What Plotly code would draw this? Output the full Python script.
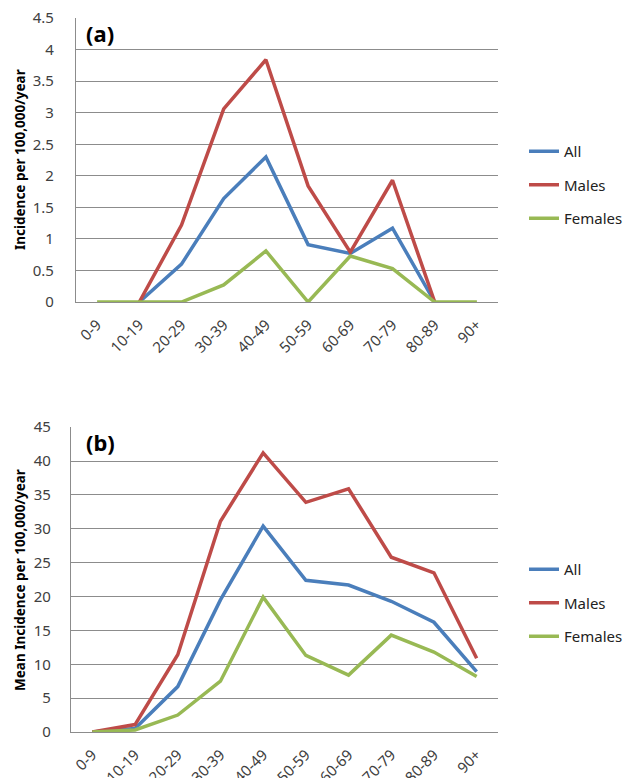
import plotly.graph_objects as go

age_groups = ["0-9", "10-19", "20-29", "30-39", "40-49", "50-59", "60-69", "70-79", "80-89", "90+"]

# Panel (a): Incidence per 100,000/year
a_all = [None, 0, 0.60, 1.64, 2.30, 0.91, 0.77, 1.17, 0, None]
a_males = [None, 0, 1.22, 3.06, 3.84, 1.84, 0.79, 1.93, 0, None]
a_females = [0, 0, 0, 0.27, 0.81, 0, 0.73, 0.53, 0, 0]

# Panel (b): Mean incidence per 100,000/year
b_all = [0, 0.5, 6.7, 19.5, 30.4, 22.4, 21.7, 19.3, 16.2, 8.9]
b_males = [0, 1.1, 11.4, 31.1, 41.2, 33.9, 35.9, 25.8, 23.5, 10.9]
b_females = [0, 0.3, 2.5, 7.5, 19.9, 11.3, 8.4, 14.3, 11.8, 8.2]

series_names = ["All", "Males", "Females"]
colors = ["#4A7EBB", "#BE4B48", "#98B954"]

# page body has an 8px default margin; the figure is sized to the visible area
OFF = 8
W, H = 639 - OFF, 778 - OFF
FONT = "Noto Sans"
TXT = "#404040"
GRID = "#8C8C8C"

fig = go.Figure()

for i, (name, vals) in enumerate(zip(series_names, [a_all, a_males, a_females])):
    fig.add_trace(go.Scatter(x=age_groups, y=vals, name=name, mode="lines",
                             line=dict(color=colors[i], width=3.5),
                             xaxis="x", yaxis="y", legend="legend",
                             legendgroup="a" + name, connectgaps=False))
for i, (name, vals) in enumerate(zip(series_names, [b_all, b_males, b_females])):
    fig.add_trace(go.Scatter(x=age_groups, y=vals, name=name, mode="lines",
                             line=dict(color=colors[i], width=3.5),
                             xaxis="x2", yaxis="y2", legend="legend2",
                             legendgroup="b" + name))

def py(p):
    return 1 - (p - OFF) / H

def pxx(p):
    return (p - OFF) / W

xcommon = dict(type="category", categoryorder="array", categoryarray=age_groups,
               range=[-0.5, 9.5], tickangle=-45, showgrid=False, showline=True,
               linecolor=GRID, linewidth=1.3, ticks="outside", ticklen=7,
               tickcolor="rgba(0,0,0,0)", tickfont=dict(family=FONT, size=15, color=TXT),
               automargin=False, fixedrange=True, ticklabeloverflow="allow")
ycommon = dict(showgrid=True, gridcolor=GRID, gridwidth=1.3, showline=True,
               linecolor=GRID, linewidth=1.3, zeroline=False, ticks="",
               tickfont=dict(family=FONT, size=15, color=TXT), automargin=False,
               fixedrange=True, ticklabeloverflow="allow")

legcommon = dict(font=dict(family=FONT, size=15, color="#222"), bgcolor="rgba(0,0,0,0)",
                 xanchor="left", yanchor="middle", traceorder="grouped",
                 tracegroupgap=11, itemwidth=30)

fig.update_layout(
    width=W, height=H, template="none",
    paper_bgcolor="white", plot_bgcolor="white",
    margin=dict(l=0, r=0, t=0, b=0),
    xaxis=dict(domain=[pxx(76), pxx(498)], anchor="y", **xcommon),
    yaxis=dict(domain=[py(302), py(18)], anchor="x", range=[0, 4.502], tick0=0,
               dtick=0.5, ticklabelstandoff=18, **ycommon),
    xaxis2=dict(domain=[pxx(71), pxx(498)], anchor="y2", **xcommon),
    yaxis2=dict(domain=[py(732), py(427)], anchor="x2", range=[0, 45.02], tick0=0,
                dtick=5, ticklabelstandoff=16, **ycommon),
    legend=dict(x=pxx(524), y=py(185), **legcommon),
    legend2=dict(x=pxx(524), y=py(603), **legcommon),
    showlegend=True,
    annotations=[
        dict(text="<b>(a)</b>", x=pxx(84), y=py(33), xref="paper", yref="paper",
             xanchor="left", yanchor="middle", showarrow=False,
             font=dict(family=FONT, size=22, color="black")),
        dict(text="<b>(b)</b>", x=pxx(84), y=py(442), xref="paper", yref="paper",
             xanchor="left", yanchor="middle", showarrow=False,
             font=dict(family=FONT, size=22, color="black")),
        dict(text="<b>Incidence per 100,000/year</b>", x=pxx(20), y=py(160),
             xref="paper", yref="paper", xanchor="center", yanchor="middle",
             textangle=-90, showarrow=False,
             font=dict(family=FONT, size=13.5, color="black")),
        dict(text="<b>Mean Incidence per 100,000/year</b>", x=pxx(20), y=py(580),
             xref="paper", yref="paper", xanchor="center", yanchor="middle",
             textangle=-90, showarrow=False,
             font=dict(family=FONT, size=13.5, color="black")),
    ],
)

fig.write_html("out.html")
